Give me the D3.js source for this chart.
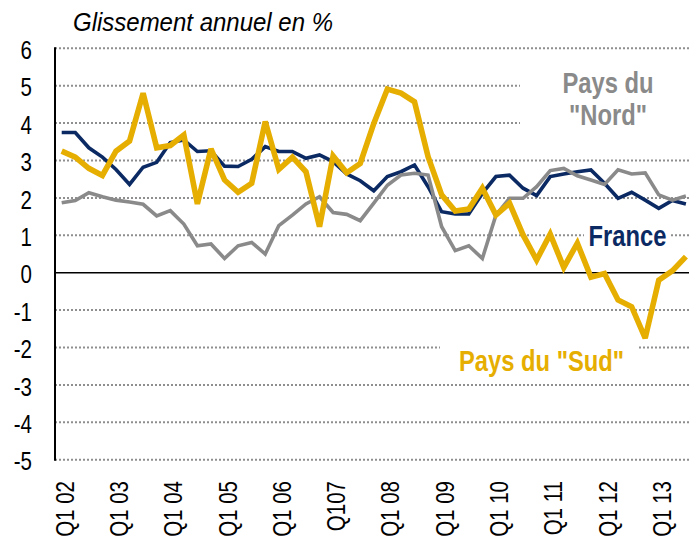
<!DOCTYPE html>
<meta charset="utf-8">
<script src="https://d3js.org/d3.v7.min.js"></script>
<style>
  body { margin: 0; background: #fff; }
  text { font-family: "Liberation Sans", Arial, sans-serif; }
</style>
<div id="viz"></div>
<script>
// quarters Q1 2002 .. Q3 2013
var quarters = ["Q1 02","Q2 02","Q3 02","Q4 02","Q1 03","Q2 03","Q3 03","Q4 03",
  "Q1 04","Q2 04","Q3 04","Q4 04","Q1 05","Q2 05","Q3 05","Q4 05",
  "Q1 06","Q2 06","Q3 06","Q4 06","Q1 07","Q2 07","Q3 07","Q4 07",
  "Q1 08","Q2 08","Q3 08","Q4 08","Q1 09","Q2 09","Q3 09","Q4 09",
  "Q1 10","Q2 10","Q3 10","Q4 10","Q1 11","Q2 11","Q3 11","Q4 11",
  "Q1 12","Q2 12","Q3 12","Q4 12","Q1 13","Q2 13","Q3 13"];

// tick labels shown under the axis (Q1 of each year)
var tickQuarters = ["Q1 02","Q1 03","Q1 04","Q1 05","Q1 06","Q1 07","Q1 08","Q1 09","Q1 10","Q1 11","Q1 12","Q1 13"];
var tickLabels   = ["Q1 02","Q1 03","Q1 04","Q1 05","Q1 06","Q107","Q1 08","Q1 09","Q1 10","Q1 11","Q1 12","Q1 13"];

var france = [3.75,3.75,3.34,3.09,2.76,2.36,2.82,2.95,3.48,3.55,3.24,3.26,
  2.85,2.84,3.03,3.37,3.24,3.24,3.06,3.15,2.97,2.64,2.46,2.19,
  2.57,2.70,2.88,2.30,1.63,1.57,1.57,2.12,2.57,2.61,2.26,2.06,
  2.57,2.64,2.70,2.75,2.39,1.99,2.15,1.94,1.72,1.93,1.84];

var nord = [1.87,1.93,2.14,2.03,1.94,1.89,1.83,1.52,1.66,1.30,0.72,0.77,
  0.38,0.72,0.81,0.50,1.26,1.54,1.84,2.03,1.61,1.56,1.39,1.86,
  2.34,2.61,2.66,2.61,1.23,0.59,0.72,0.38,1.54,1.99,1.99,2.30,
  2.73,2.79,2.59,2.48,2.36,2.75,2.64,2.67,2.08,1.94,2.05];

var sud = [3.25,3.09,2.79,2.60,3.25,3.52,4.80,3.34,3.40,3.68,1.84,3.31,
  2.48,2.15,2.39,4.04,2.76,3.09,2.70,1.23,3.12,2.67,2.92,3.99,
  4.91,4.80,4.57,3.10,2.08,1.65,1.70,2.26,1.54,1.86,1.01,0.34,
  1.03,0.14,0.79,-0.12,-0.02,-0.73,-0.91,-1.75,-0.20,0.05,0.43];

var yTicks = [-5,-4,-3,-2,-1,0,1,2,3,4,5,6];

var width = 689, height = 542;
var narrow = 0.82; // condensed look of the original font

var svg = d3.select("#viz").append("svg")
  .attr("width", width)
  .attr("height", height);

var x = d3.scalePoint().domain(quarters).range([61.7, 685.9]);
var y = d3.scaleLinear().domain([-5, 6]).range([459.7, 48.3]);

// gridlines
svg.append("g").selectAll("line")
  .data(yTicks.filter(function(d) { return d !== 0; }))
  .enter().append("line")
    .attr("x1", 55).attr("x2", width)
    .attr("y1", function(d) { return y(d); })
    .attr("y2", function(d) { return y(d); })
    .attr("stroke", "#8f8f8f")
    .attr("stroke-width", 2)
    .attr("stroke-dasharray", "2,2");

// zero line
svg.append("line")
  .attr("x1", 55).attr("x2", width)
  .attr("y1", y(0)).attr("y2", y(0))
  .attr("stroke", "#000").attr("stroke-width", 1.5);

// y axis line
svg.append("line")
  .attr("x1", 55).attr("x2", 55)
  .attr("y1", y(6) - 1).attr("y2", y(-5) + 1)
  .attr("stroke", "#000").attr("stroke-width", 2);

// y tick labels
svg.append("g").selectAll("g")
  .data(yTicks)
  .enter().append("g")
    .attr("transform", function(d) { return "translate(32," + (y(d) + 2) + ") scale(" + narrow + ",1)"; })
  .append("text")
    .attr("text-anchor", "end")
    .attr("dy", "0.35em")
    .style("font-size", "25px")
    .attr("fill", "#000")
    .text(function(d) { return d; });

// x tick labels, rotated
svg.append("g").selectAll("g")
  .data(tickQuarters)
  .enter().append("g")
    .attr("transform", function(d) { return "translate(" + (x(d) + 3.3) + ",481) rotate(-90) scale(" + narrow + ",1)"; })
  .append("text")
    .attr("text-anchor", "end")
    .attr("dy", "0.35em")
    .style("font-size", "25px")
    .attr("fill", "#000")
    .text(function(d, i) { return tickLabels[i]; });

// white boxes behind series labels
svg.append("rect").attr("x", 520).attr("y", 60).attr("width", 169).attr("height", 76).attr("fill", "#fff");
svg.append("rect").attr("x", 440).attr("y", 341).attr("width", 198).attr("height", 38).attr("fill", "#fff");
svg.append("rect").attr("x", 584).attr("y", 222).attr("width", 87).attr("height", 28).attr("fill", "#fff");

// lines
var line = d3.line()
  .x(function(d, i) { return x(quarters[i]); })
  .y(function(d) { return y(d); });

var series = [
  {name: "france", values: france, color: "#0b2a63", w: 3.6},
  {name: "nord", values: nord, color: "#8a8a8a", w: 3.6},
  {name: "sud", values: sud, color: "#e6ae00", w: 5.6}
];

svg.append("g").selectAll("path")
  .data(series)
  .enter().append("path")
    .attr("d", function(d) { return line(d.values); })
    .attr("fill", "none")
    .attr("stroke", function(d) { return d.color; })
    .attr("stroke-width", function(d) { return d.w; })
    .attr("stroke-linejoin", "miter")
    .attr("stroke-miterlimit", 3);

// title
svg.append("text")
  .attr("x", 73).attr("y", 30.5)
  .attr("textLength", 260)
  .attr("lengthAdjust", "spacingAndGlyphs")
  .style("font-size", "25px")
  .style("font-style", "italic")
  .attr("fill", "#000")
  .text("Glissement annuel en %");

// series labels
function label(txt, cx, by, color) {
  svg.append("g")
    .attr("transform", "translate(" + cx + "," + by + ") scale(" + narrow + ",1)")
  .append("text")
    .attr("text-anchor", "middle")
    .style("font-size", "29px")
    .style("font-weight", "bold")
    .attr("fill", color)
    .text(txt);
}
label("Pays du", 608, 92.5, "#8a8a8a");
label("\"Nord\"", 608, 125, "#8a8a8a");
label("France", 627.5, 246, "#0b2a63");
label("Pays du \"Sud\"", 541.5, 371, "#e6ae00");
</script>
